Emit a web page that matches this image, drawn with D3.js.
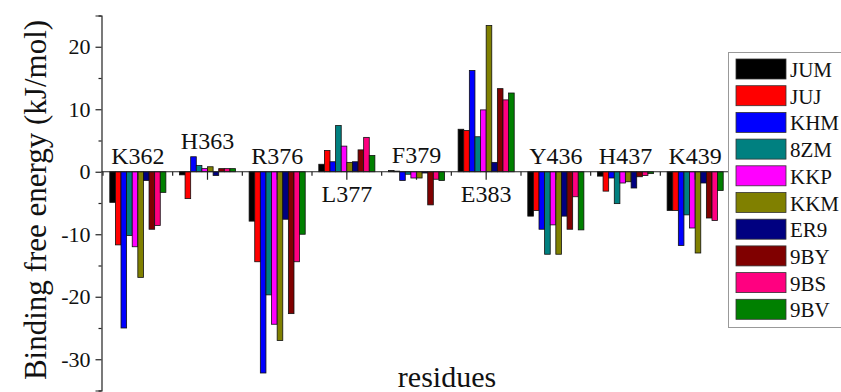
<!DOCTYPE html>
<html><head><meta charset="utf-8">
<script src="https://cdn.jsdelivr.net/npm/d3@7"></script>
<style>html,body{margin:0;padding:0;background:#fff;}svg{display:block;}</style>
</head><body>
<script>
const residues = ["K362","H363","R376","L377","F379","E383","Y436","H437","K439"];
const seriesNames = ["JUM","JUJ","KHM","8ZM","KKP","KKM","ER9","9BY","9BS","9BV"];
const seriesColors = ["#000000","#ff0000","#0000ff","#008080","#ff00ff","#808000","#000080","#800000","#ff0080","#008000"];
const JUM = [-4.9, -0.5, -7.9, 1.2, 0.2, 6.8, -7.1, -0.7, -6.2];
const JUJ = [-11.7, -4.3, -14.4, 3.4, 0.1, 6.6, -6.2, -3.1, -6.2];
const KHM = [-25.0, 2.4, -32.2, 1.6, -1.4, 16.2, -9.2, -1.0, -11.8];
const ZM8 = [-10.2, 1.0, -19.7, 7.4, -0.4, 5.6, -13.2, -5.1, -6.9];
const KKP = [-12.0, 0.5, -24.4, 4.1, -1.0, 9.9, -8.5, -1.8, -9.0];
const KKM = [-16.9, 0.8, -27.0, 1.5, -1.0, 23.4, -13.2, -1.6, -13.0];
const ER9 = [-1.4, -0.6, -7.6, 1.6, -0.2, 1.5, -7.1, -2.6, -1.8];
const BY9 = [-9.2, 0.5, -22.7, 3.5, -5.3, 13.3, -9.2, -0.8, -7.4];
const BS9 = [-8.6, 0.5, -14.4, 5.5, -1.2, 11.5, -4.0, -0.6, -7.8];
const BV9 = [-3.3, 0.5, -10.0, 2.6, -1.4, 12.6, -9.3, -0.3, -3.0];
const seriesValues = [JUM, JUJ, KHM, ZM8, KKP, KKM, ER9, BY9, BS9, BV9];
const yMajorTicks = [20, 10, 0, -10, -20, -30];
const yMinorTicks = [25, 15, 5, -5, -15, -25, -35];
const yTitle = "Binding free energy (kJ/mol)";
const xTitle = "residues";

const W = 841, H = 392;
const FONT = "'Liberation Serif','Times New Roman',Times,serif";
const svg = d3.select("body").append("svg").attr("width", W).attr("height", H)
  .style("font-family", FONT);

const y = d3.scaleLinear().domain([-35, 25]).range([390.5, 15.5]);
const x0 = d3.scaleBand().domain(residues).range([103, 730])
  .paddingInner(0.195).paddingOuter(0.0975);
const x1 = d3.scaleBand().domain(seriesNames).range([0, x0.bandwidth()]).padding(0);

// bars
const groups = svg.append("g").selectAll("g").data(residues).join("g")
  .attr("transform", r => `translate(${x0(r)},0)`);
groups.selectAll("rect").data((r, gi) => seriesNames.map((s, si) => ({s, si, v: seriesValues[si][gi]})))
  .join("rect")
  .attr("x", d => x1(d.s))
  .attr("width", x1.bandwidth())
  .attr("y", d => Math.min(y(d.v), y(0)))
  .attr("height", d => Math.abs(y(d.v) - y(0)))
  .attr("fill", d => seriesColors[d.si])
  .attr("stroke", "#111").attr("stroke-width", 0.8);

// y axis
const yAxisX = 101.5;
const yAxis = d3.axisLeft(y).tickValues(yMajorTicks).tickSize(6).tickPadding(5)
  .tickFormat(d => String(d));
const gy = svg.append("g").attr("transform", `translate(${yAxisX},0)`).call(yAxis);
gy.select(".domain").attr("stroke", "#222").attr("stroke-width", 1.2);
gy.selectAll(".tick line").attr("stroke", "#222").attr("stroke-width", 1.2);
gy.selectAll(".tick text").attr("font-size", 22).attr("font-family", FONT).attr("fill", "#111");
const gyMinor = svg.append("g").attr("transform", `translate(${yAxisX},0)`)
  .call(d3.axisLeft(y).tickValues(yMinorTicks).tickSize(3).tickFormat(""));
gyMinor.select(".domain").remove();
gyMinor.selectAll(".tick line").attr("stroke", "#222").attr("stroke-width", 1.2);

// x axis at zero
const gx = svg.append("g").attr("transform", `translate(0,${y(0)})`);
gx.append("line").attr("x1", yAxisX).attr("x2", 730).attr("y1", 0).attr("y2", 0)
  .attr("stroke", "#222").attr("stroke-width", 1.2);
gx.selectAll("line.major").data(residues).join("line").attr("class", "major")
  .attr("x1", r => x0(r) + x0.bandwidth() / 2).attr("x2", r => x0(r) + x0.bandwidth() / 2)
  .attr("y1", 0).attr("y2", 8).attr("stroke", "#222").attr("stroke-width", 1.2);
const boundaries = residues.map(r => x0(r) - (x0.step() - x0.bandwidth()) / 2).concat([730]);
gx.selectAll("line.minor").data(boundaries).join("line").attr("class", "minor")
  .attr("x1", d => d).attr("x2", d => d).attr("y1", 0).attr("y2", 4)
  .attr("stroke", "#222").attr("stroke-width", 1.2);

// residue labels
svg.append("g").selectAll("text").data(residues).join("text")
  .attr("x", r => x0(r) + x0.bandwidth() / 2)
  .attr("y", (r, gi) => {
    const mx = d3.max(seriesValues, s => s[gi]);
    return mx > 4 ? y(0) + 30 : y(Math.max(0, mx)) - 8;
  })
  .attr("text-anchor", "middle").attr("font-size", 24).attr("fill", "#111")
  .text(r => r);

// axis titles
svg.append("text").attr("transform", "translate(46,200) rotate(-90)")
  .attr("text-anchor", "middle").attr("font-size", 31).attr("fill", "#111").text(yTitle);
svg.append("text").attr("x", 447).attr("y", 387)
  .attr("text-anchor", "middle").attr("font-size", 30).attr("fill", "#111").text(xTitle);

// legend
const lg = svg.append("g");
lg.append("rect").attr("x", 728.5).attr("y", 52.5).attr("width", 120).attr("height", 275)
  .attr("fill", "#fff").attr("stroke", "#999").attr("stroke-width", 1);
const items = lg.selectAll("g.item").data(seriesNames).join("g").attr("class", "item")
  .attr("transform", (d, i) => `translate(0,${59 + i * 26.7})`);
items.append("rect").attr("x", 736).attr("y", 0).attr("width", 50).attr("height", 20)
  .attr("fill", (d, i) => seriesColors[i]).attr("stroke", "#333").attr("stroke-width", 0.8);
items.append("text").attr("x", 790).attr("y", 18).attr("font-size", 21).attr("fill", "#111")
  .text(d => d);
</script>
</body></html>
